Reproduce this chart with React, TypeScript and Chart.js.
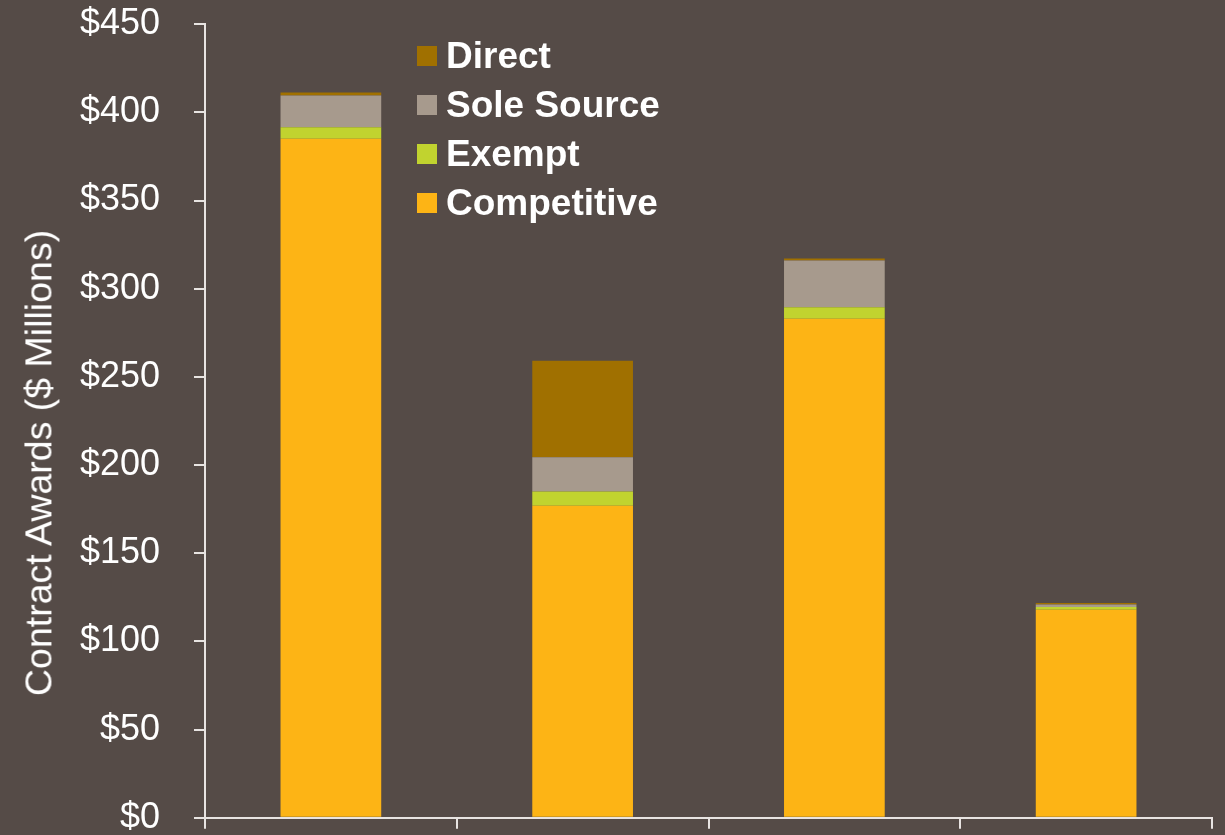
import React, { useEffect, useRef } from "react";
import { Chart, registerables } from "chart.js";

Chart.register(...registerables);

const categories = ["Period 1", "Period 2", "Period 3", "Period 4"];
const competitive = [385, 177, 283, 118];
const exempt = [6.5, 8, 6.5, 1.5];
const soleSource = [18, 19.5, 26.5, 1.5];
const direct = [1.7, 54.6, 1.2, 0.8];
const yTicks = [0, 50, 100, 150, 200, 250, 300, 350, 400, 450];
const yTitle = "Contract Awards ($ Millions)";

const BG = "#554B47";
const AXIS = "#E8E4E2";
const FONT = "'Liberation Sans', Arial, sans-serif";

const series = [
  { label: "Competitive", data: competitive, color: "#FDB415" },
  { label: "Exempt", data: exempt, color: "#C1D32F" },
  { label: "Sole Source", data: soleSource, color: "#A79A8D" },
  { label: "Direct", data: direct, color: "#A07000" },
];

export default function App() {
  const ref = useRef<HTMLCanvasElement | null>(null);

  useEffect(() => {
    if (!ref.current) return;
    const chart = new Chart(ref.current, {
      type: "bar",
      data: {
        labels: categories,
        datasets: series.map((s) => ({
          label: s.label,
          data: s.data,
          backgroundColor: s.color,
          borderWidth: 0,
          categoryPercentage: 1,
          barPercentage: 0.4,
        })),
      },
      options: {
        responsive: false,
        animation: false,
        layout: { padding: { top: 0, right: 13, left: 0, bottom: 0 } },
        plugins: { legend: { display: false }, tooltip: { enabled: false } },
        scales: {
          x: {
            stacked: true,
            offset: true,
            ticks: { display: false },
            grid: {
              offset: true,
              drawOnChartArea: false,
              drawTicks: true,
              tickLength: 11,
              color: AXIS,
              lineWidth: 2,
            },
            border: { display: true, color: AXIS, width: 2 },
            afterFit: (scale: any) => {
              scale.height = 16.5;
            },
          },
          y: {
            stacked: true,
            min: 0,
            max: 450,
            afterBuildTicks: (scale: any) => {
              scale.ticks = yTicks.map((v) => ({ value: v }));
            },
            ticks: {
              color: "#FFFFFF",
              padding: 34,
              font: { family: FONT, size: 36, lineHeight: 0.01 },
              callback: (v: any) => "$" + v,
            },
            grid: {
              drawOnChartArea: false,
              drawTicks: true,
              tickLength: 11,
              color: AXIS,
              lineWidth: 2,
            },
            border: { display: true, color: AXIS, width: 2 },
            title: { display: false },
            afterFit: (scale: any) => {
              scale.width = 205;
            },
          },
        },
      },
    });
    return () => chart.destroy();
  }, []);

  const legendItems = [...series].reverse();

  return (
    <div
      style={{
        position: "fixed",
        left: 0,
        top: 0,
        width: 1225,
        height: 835,
        background: BG,
        overflow: "hidden",
      }}
    >
      <canvas
        ref={ref}
        width={1225}
        height={862}
        style={{ position: "absolute", left: 0, top: -10, width: 1225, height: 862, display: "block" }}
      />
      <div
        style={{
          position: "absolute",
          left: 39,
          top: 463,
          transform: "translate(-50%, -50%) rotate(-90deg)",
          fontFamily: FONT,
          fontSize: 37.5,
          color: "#FFFFFF",
          whiteSpace: "nowrap",
          lineHeight: 1.15,
        }}
      >
        {yTitle}
      </div>
      <div style={{ position: "absolute", left: 417, top: 31 }}>
        {legendItems.map((s) => (
          <div
            key={s.label}
            style={{
              display: "flex",
              alignItems: "center",
              height: 49,
              fontFamily: FONT,
              fontWeight: "bold",
              fontSize: 37,
              color: "#FFFFFF",
              whiteSpace: "nowrap",
            }}
          >
            <span style={{ display: "inline-block", width: 20, height: 20, background: s.color, marginRight: 9 }} />
            <span>{s.label}</span>
          </div>
        ))}
      </div>
    </div>
  );
}
